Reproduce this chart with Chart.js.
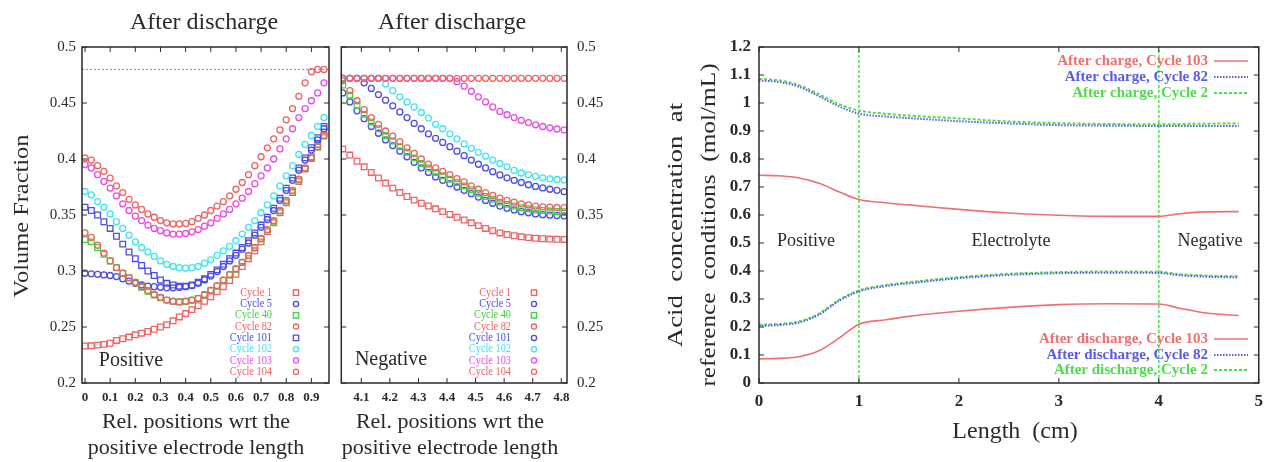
<!DOCTYPE html>
<html><head><meta charset="utf-8">
<script src="https://cdn.jsdelivr.net/npm/chart.js@4/dist/chart.umd.min.js"></script>
<style>
html,body{margin:0;padding:0;background:#fff;width:1271px;height:462px;overflow:hidden}
canvas{position:absolute;top:0}
</style></head><body>
<canvas id="c1" width="336" height="462" style="left:0px"></canvas>
<canvas id="c2" width="276" height="462" style="left:336px"></canvas>
<canvas id="c3" width="659" height="462" style="left:612px"></canvas>
<script>
// ---------------- DATA ----------------
const cycles = ['Cycle 1','Cycle 5','Cycle 40','Cycle 82','Cycle 101','Cycle 102','Cycle 103','Cycle 104'];

// Positive electrode (relative position 0..0.95)
const posX = [0,0.025,0.05,0.075,0.1,0.125,0.15,0.175,0.2,0.225,0.25,0.275,0.3,0.325,0.35,0.375,0.4,0.425,0.45,0.475,0.5,0.525,0.55,0.575,0.6,0.625,0.65,0.675,0.7,0.725,0.75,0.775,0.8,0.825,0.85,0.875,0.9,0.925,0.95];
const posCycle1   = [.233,.2332,.2338,.2345,.2355,.238,.2395,.241,.243,.2445,.246,.248,.250,.252,.2555,.259,.262,.2655,.269,.273,.277,.2815,.286,.2915,.297,.304,.311,.318,.326,.335,.343,.352,.361,.370,.380,.391,.402,.413,.424];
const posCycle5   = [.298,.2975,.297,.2965,.296,.295,.293,.291,.289,.2875,.2865,.286,.2855,.285,.285,.2853,.286,.287,.289,.292,.2955,.2995,.304,.309,.314,.3195,.325,.332,.339,.346,.354,.363,.372,.381,.390,.399,.408,.417,.427];
const posCycle40  = [.328,.326,.321,.315,.309,.303,.298,.294,.2895,.2855,.282,.2785,.276,.274,.2728,.2723,.2728,.2738,.2755,.2785,.2825,.2865,.2915,.2965,.3015,.3075,.3135,.3205,.3285,.3365,.3445,.3535,.3625,.3715,.3815,.3915,.4005,.4105,.4205];
const posCycle82  = [.334,.330,.323,.316,.309,.303,.298,.294,.290,.286,.2825,.279,.2765,.274,.273,.2725,.273,.274,.2755,.279,.283,.287,.292,.297,.302,.308,.314,.321,.329,.337,.345,.354,.363,.372,.382,.392,.401,.411,.421];
const posCycle101 = [.357,.354,.350,.344,.338,.331,.324,.317,.311,.305,.300,.296,.292,.289,.2875,.2865,.2865,.2875,.290,.293,.297,.301,.306,.311,.316,.321,.327,.334,.341,.348,.356,.365,.374,.383,.392,.401,.410,.419,.429];
const posCycle102 = [.371,.368,.362,.357,.351,.344,.338,.332,.326,.321,.317,.313,.309,.306,.304,.303,.3025,.303,.304,.307,.310,.314,.318,.322,.327,.333,.339,.345,.352,.359,.367,.376,.385,.394,.404,.413,.421,.429,.437];
const posCycle103 = [.395,.392,.386,.380,.374,.367,.360,.354,.349,.345,.341,.338,.336,.334,.333,.333,.3335,.335,.337,.340,.343,.347,.351,.355,.360,.365,.371,.378,.385,.392,.400,.409,.418,.427,.437,.445,.452,.459,.468];
const posCycle104 = [.401,.399,.394,.389,.383,.376,.370,.364,.359,.355,.351,.348,.345,.343,.342,.342,.3425,.344,.347,.350,.354,.358,.362,.367,.373,.379,.386,.394,.402,.410,.418,.426,.435,.445,.456,.468,.478,.480,.480];
const posSeries = [posCycle1,posCycle5,posCycle40,posCycle82,posCycle101,posCycle102,posCycle103,posCycle104];
const posReferenceLevel = 0.48;

// Negative electrode (positions 4.035..4.81)
const negX = [4.035,4.06,4.085,4.11,4.135,4.16,4.185,4.21,4.235,4.26,4.285,4.31,4.335,4.36,4.385,4.41,4.435,4.46,4.485,4.51,4.535,4.56,4.585,4.61,4.635,4.66,4.685,4.71,4.735,4.76,4.785,4.81];
const negCycle1   = [.409,.4035,.398,.393,.388,.383,.3785,.374,.370,.3665,.3633,.3605,.358,.3555,.353,.3505,.348,.3455,.343,.3405,.338,.336,.334,.3325,.3315,.3305,.3298,.3292,.3288,.3285,.3283,.3282];
const negCycle5   = [.459,.451,.443,.436,.429,.423,.417,.412,.407,.402,.397,.392,.388,.384,.381,.378,.375,.372,.369,.366,.363,.3605,.358,.356,.3545,.353,.352,.351,.3503,.3498,.3495,.3492];
const negCycle40  = [.466,.457,.448,.440,.433,.427,.421,.416,.411,.406,.401,.396,.392,.388,.385,.382,.379,.376,.3725,.3695,.3665,.364,.3615,.3595,.358,.3565,.3555,.3545,.354,.3535,.3532,.353];
const negCycle82  = [.470,.461,.452,.444,.437,.431,.425,.4205,.4155,.410,.405,.400,.3955,.392,.389,.386,.3825,.3795,.376,.373,.370,.3675,.365,.363,.3615,.360,.359,.358,.3573,.357,.3567,.3565];
const negCycle101 = [.472,.472,.472,.468,.463,.4575,.4525,.4475,.442,.437,.4318,.427,.4225,.4185,.4148,.411,.407,.403,.399,.3953,.392,.3887,.3858,.3832,.381,.379,.377,.3755,.3742,.373,.372,.3708];
const negCycle102 = [.472,.472,.472,.472,.472,.472,.467,.461,.4555,.451,.4465,.4415,.4365,.431,.427,.4225,.418,.4135,.4095,.406,.4025,.399,.396,.393,.3898,.3875,.386,.3845,.3832,.3823,.3817,.3813];
const negCycle103 = [.472,.472,.472,.472,.472,.472,.472,.472,.472,.472,.472,.472,.472,.472,.472,.472,.469,.465,.4605,.4555,.451,.4465,.4425,.4395,.437,.4345,.4325,.4305,.429,.4278,.4268,.426];
const negCycle104 = [.472,.472,.472,.472,.472,.472,.472,.472,.472,.472,.472,.472,.472,.472,.472,.472,.472,.472,.472,.472,.472,.472,.472,.472,.472,.472,.472,.472,.472,.472,.472,.472];
const negSeries = [negCycle1,negCycle5,negCycle40,negCycle82,negCycle101,negCycle102,negCycle103,negCycle104];

// Acid concentration vs length
const lenX = [0,0.2,0.4,0.6,0.8,1.0,1.25,1.5,2.0,2.5,3.0,3.5,4.0,4.2,4.45,4.8];
const chargeC103 = [.742,.740,.732,.713,.683,.655,.644,.636,.620,.607,.599,.595,.595,.604,.611,.612];
const chargeC82  = [1.080,1.075,1.058,1.024,.988,.962,.952,.946,.935,.927,.921,.919,.918,.918,.918,.918];
const chargeC2   = [1.086,1.081,1.064,1.031,.996,.973,.962,.955,.945,.934,.928,.925,.924,.925,.926,.927];
const dischC103  = [.086,.088,.094,.115,.160,.210,.225,.238,.256,.270,.280,.283,.282,.268,.251,.241];
const dischC82   = [.204,.207,.216,.244,.293,.327,.345,.356,.374,.386,.392,.394,.393,.385,.380,.377];
const dischC2    = [.208,.211,.220,.248,.297,.331,.349,.360,.378,.390,.396,.398,.397,.389,.384,.381];
const lenLabels = ['After charge, Cycle 103','After charge, Cycle 82','After charge, Cycle 2','After discharge, Cycle 103','After discharge, Cycle 82','After discharge, Cycle 2'];
const lenSeries = [chargeC103,chargeC82,chargeC2,dischC103,dischC82,dischC2];
const regionDividers = [1,4];

// Tick values
const posXTicks = [0,0.1,0.2,0.3,0.4,0.5,0.6,0.7,0.8,0.9];
const negXTicks = [4.1,4.2,4.3,4.4,4.5,4.6,4.7,4.8];
const fracYTicks = [0.2,0.25,0.3,0.35,0.4,0.45,0.5];
const lenXTicks = [0,1,2,3,4,5];
const concYTicks = [0,0.1,0.2,0.3,0.4,0.5,0.6,0.7,0.8,0.9,1.0,1.1,1.2];

// ---------------- STYLE ----------------
const SERIF = '"Liberation Serif","DejaVu Serif",serif';
const cycColors = ['#f06262','#4c4ce6','#3ed43e','#f06262','#4c4ce6','#3ee6f0','#e64ce6','#f06262'];
const posStyles = ['rect','circle','rect','circle','rect','circle','circle','circle'];
const negStyles = ['rect','circle','rect','circle','circle','circle','circle','circle'];
const lenColors = ['#f07070','#5a5ae8','#4ade4a','#f07070','#5a5ae8','#4ade4a'];
const lenDash = [[],[1.5,1.5],[3,2],[],[1.5,1.5],[3,2]];
const INK = '#2a2a2a';

function fmt(v){ return String(Math.round(v*100)/100); }

function drawText(ctx, t, offX){
  ctx.save();
  ctx.font = t.font; ctx.fillStyle = t.color || INK;
  ctx.textAlign = t.align || 'center'; ctx.textBaseline = 'middle';
  ctx.translate(t.x - offX, t.y);
  if (t.rot) ctx.rotate(t.rot);
  if (t.sx) ctx.scale(t.sx, 1);
  ctx.fillText(t.text, 0, 0);
  ctx.restore();
}

function framePlugin(xt, yt, len){
  return {id:'frame', afterDatasetsDraw(chart){
    const {ctx, chartArea:a, scales} = chart;
    ctx.save();
    ctx.strokeStyle = INK; ctx.lineWidth = 1.5;
    ctx.strokeRect(a.left, a.top, a.right-a.left, a.bottom-a.top);
    ctx.lineWidth = 1;
    ctx.beginPath();
    xt.forEach(v=>{ const px = scales.x.getPixelForValue(v);
      ctx.moveTo(px,a.bottom); ctx.lineTo(px,a.bottom-len);
      ctx.moveTo(px,a.top); ctx.lineTo(px,a.top+len); });
    yt.forEach(v=>{ const py = scales.y.getPixelForValue(v);
      ctx.moveTo(a.left,py); ctx.lineTo(a.left+len,py);
      ctx.moveTo(a.right,py); ctx.lineTo(a.right-len,py); });
    ctx.stroke();
    ctx.restore();
  }};
}

function textPlugin(items, offX, extra){
  return {id:'texts', afterDraw(chart){
    const ctx = chart.ctx;
    items.forEach(t=>drawText(ctx,t,offX));
    if (extra) extra(chart);
  }};
}

function cycleLegend(styles, textRight, markX, offX){
  return function(chart){
    const ctx = chart.ctx;
    cycles.forEach((c,i)=>{
      const y = 292.7 + i*11.3;
      drawText(ctx,{text:c,x:textRight,y:y,font:'12px '+SERIF,color:cycColors[i],align:'right',sx:0.86},offX);
      ctx.save(); ctx.strokeStyle = cycColors[i]; ctx.lineWidth = 1.3;
      ctx.beginPath();
      const mx = markX - offX;
      if (styles[i]==='rect') ctx.rect(mx-2.7,y-2.7,5.4,5.4); else ctx.arc(mx,y,2.6,0,Math.PI*2);
      ctx.stroke(); ctx.restore();
    });
  };
}

function cycleDatasets(xs, series, styles){
  return cycles.map((c,i)=>({
    label:c,
    data: xs.map((x,j)=>({x:x, y:series[i][j]})),
    showLine:false,
    pointStyle: styles[i],
    pointRadius: styles[i]==='rect' ? 4 : 3,
    pointBorderWidth: 1.3,
    borderColor: cycColors[i],
    pointBorderColor: cycColors[i],
    backgroundColor: 'rgba(0,0,0,0)',
    pointBackgroundColor: 'rgba(0,0,0,0)',
    order: cycles.length - i
  }));
}

const baseOpts = {responsive:false, animation:false, events:[],
  plugins:{legend:{display:false}, tooltip:{enabled:false}, title:{display:false}}};
const noGrid = {display:false, drawTicks:false};

// ---------------- CHART 1: positive ----------------
new Chart(document.getElementById('c1'), {
  type:'scatter',
  data:{datasets: cycleDatasets(posX, posSeries, posStyles)},
  options:Object.assign({}, baseOpts, {
    layout:{padding:{left:0,top:47,right:7,bottom:0}},
    scales:{
      x:{type:'linear', min:-0.012, max:0.97, grid:noGrid, border:{display:false},
         afterFit:s=>{s.height=79;},
         afterBuildTicks:s=>{s.ticks = posXTicks.map(v=>({value:v}));},
         ticks:{padding:7, color:INK, font:{family:SERIF,size:13,weight:'bold'}, maxRotation:0, autoSkip:false, callback:v=>fmt(v)}},
      y:{type:'linear', min:0.2, max:0.5, grid:noGrid, border:{display:false},
         afterFit:s=>{s.width=82;},
         afterBuildTicks:s=>{s.ticks = fracYTicks.map(v=>({value:v}));},
         ticks:{padding:6, color:INK, font:{family:SERIF,size:15}, callback:v=>fmt(v)}}
    }
  }),
  plugins:[
    {id:'refline', beforeDatasetsDraw(chart){
      const {ctx, chartArea:a, scales} = chart; const py = scales.y.getPixelForValue(posReferenceLevel);
      ctx.save(); ctx.strokeStyle='#8a8a8a'; ctx.lineWidth=1; ctx.setLineDash([2,2]);
      ctx.beginPath(); ctx.moveTo(a.left,py); ctx.lineTo(a.right,py); ctx.stroke(); ctx.restore(); }},
    framePlugin(posXTicks, fracYTicks, 5),
    textPlugin([
      {text:'After discharge', x:204, y:23, font:'24px '+SERIF},
      {text:'Volume Fraction', x:22, y:216, font:'22px '+SERIF, rot:-Math.PI/2, sx:1.11},
      {text:'Rel. positions wrt the', x:196, y:422, font:'22px '+SERIF},
      {text:'positive electrode length', x:196, y:448, font:'22px '+SERIF},
      {text:'Positive', x:131, y:361, font:'20px '+SERIF}
    ], 0, cycleLegend(posStyles, 272, 296, 0))
  ]
});

// ---------------- CHART 2: negative ----------------
new Chart(document.getElementById('c2'), {
  type:'scatter',
  data:{datasets: cycleDatasets(negX, negSeries, negStyles)},
  options:Object.assign({}, baseOpts, {
    layout:{padding:{left:4,top:47,right:0,bottom:0}},
    scales:{
      x:{type:'linear', min:4.03, max:4.82, grid:noGrid, border:{display:false},
         afterFit:s=>{s.height=79;},
         afterBuildTicks:s=>{s.ticks = negXTicks.map(v=>({value:v}));},
         ticks:{padding:7, color:INK, font:{family:SERIF,size:13,weight:'bold'}, maxRotation:0, autoSkip:false, callback:v=>fmt(v)}},
      y:{type:'linear', position:'right', min:0.2, max:0.5, grid:noGrid, border:{display:false},
         afterFit:s=>{s.width=45;},
         afterBuildTicks:s=>{s.ticks = fracYTicks.map(v=>({value:v}));},
         ticks:{padding:10, color:INK, font:{family:SERIF,size:15}, callback:v=>fmt(v)}}
    }
  }),
  plugins:[
    framePlugin(negXTicks, fracYTicks, 5),
    textPlugin([
      {text:'After discharge', x:452, y:23, font:'24px '+SERIF},
      {text:'Rel. positions wrt the', x:450, y:422, font:'22px '+SERIF},
      {text:'positive electrode length', x:450, y:448, font:'22px '+SERIF},
      {text:'Negative', x:391, y:360, font:'20px '+SERIF}
    ], 336, cycleLegend(negStyles, 511, 534, 336))
  ]
});

// ---------------- CHART 3: acid concentration ----------------
const lenDatasets = lenLabels.map((lab,i)=>({
  label:lab,
  data: lenX.map((x,j)=>({x:x, y:lenSeries[i][j]})),
  showLine:true, pointRadius:0, borderColor:lenColors[i], borderWidth: i%3===0 ? 1.6 : 2,
  borderDash:lenDash[i], cubicInterpolationMode:'monotone', fill:false, order: 10+i
}));
regionDividers.forEach(d=>{
  lenDatasets.push({label:'divider', data:[{x:d,y:0},{x:d,y:1.2}], showLine:true, pointRadius:0,
    borderColor:'#4ade4a', borderWidth:1.5, borderDash:[3,2], tension:0, fill:false, order:20});
});

new Chart(document.getElementById('c3'), {
  type:'scatter',
  data:{datasets: lenDatasets},
  options:Object.assign({}, baseOpts, {
    layout:{padding:{left:0,top:47,right:8,bottom:0}},
    scales:{
      x:{type:'linear', min:0, max:5, grid:noGrid, border:{display:false},
         afterFit:s=>{s.height=79;},
         afterBuildTicks:s=>{s.ticks = lenXTicks.map(v=>({value:v}));},
         ticks:{padding:8, color:INK, font:{family:SERIF,size:17,weight:'bold'}, maxRotation:0, autoSkip:false, callback:v=>fmt(v)}},
      y:{type:'linear', min:0, max:1.2, grid:noGrid, border:{display:false},
         afterFit:s=>{s.width=147;},
         afterBuildTicks:s=>{s.ticks = concYTicks.map(v=>({value:v}));},
         ticks:{padding:8, color:INK, font:{family:SERIF,size:17,weight:'bold'}, callback:v=>fmt(v)}}
    }
  }),
  plugins:[
    framePlugin(lenXTicks, concYTicks, 5),
    textPlugin([
      {text:'Acid  concentration  at', x:676, y:225, font:'22px '+SERIF, rot:-Math.PI/2, sx:1.22},
      {text:'reference  conditions  (mol/mL)', x:709, y:225, font:'22px '+SERIF, rot:-Math.PI/2, sx:1.15},
      {text:'Length  (cm)', x:1015, y:432, font:'24px '+SERIF},
      {text:'Positive', x:806, y:241, font:'18px '+SERIF},
      {text:'Electrolyte', x:1011, y:241, font:'18px '+SERIF},
      {text:'Negative', x:1210, y:241, font:'18px '+SERIF}
    ], 612, function(chart){
      const ctx = chart.ctx;
      const rows = [61,77,93,339,355,370];
      lenLabels.forEach((lab,i)=>{
        const y = rows[i];
        drawText(ctx,{text:lab,x:1208,y:y,font:'bold 15px '+SERIF,color:lenColors[i],align:'right'},612);
        ctx.save(); ctx.strokeStyle=lenColors[i]; ctx.lineWidth= i%3===0 ? 1.6 : 2; ctx.setLineDash(lenDash[i]);
        ctx.beginPath(); ctx.moveTo(1214-612,y); ctx.lineTo(1248-612,y); ctx.stroke(); ctx.restore();
      });
    })
  ]
});
</script>
</body></html>
